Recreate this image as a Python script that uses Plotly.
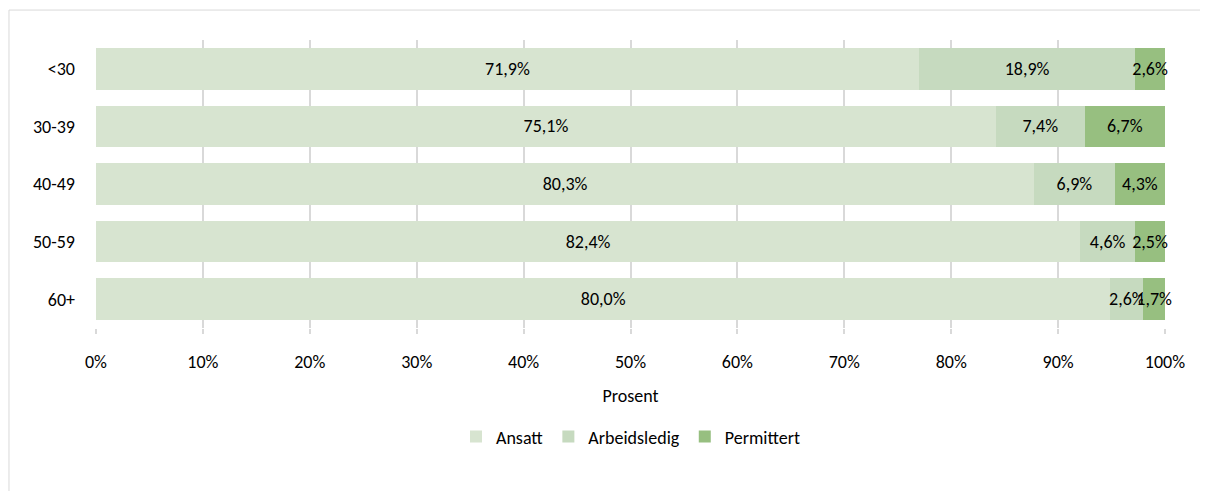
import plotly.graph_objects as go

categories = ["<30", "30-39", "40-49", "50-59", "60+"]
ansatt = [71.9, 75.1, 80.3, 82.4, 80.0]
arbeidsledig = [18.9, 7.4, 6.9, 4.6, 2.6]
permittert = [2.6, 6.7, 4.3, 2.5, 1.7]
tick_vals = [0, 10, 20, 30, 40, 50, 60, 70, 80, 90, 100]
tick_text = [f"{v}%" for v in tick_vals]

series = [
    ("Ansatt", ansatt, "#D7E4D0"),
    ("Arbeidsledig", arbeidsledig, "#C6DABF"),
    ("Permittert", permittert, "#97BF80"),
]

FONT = "Calibri, Carlito, Lato, sans-serif"
FS = 18

fig = go.Figure()
for name, vals, color in series:
    fig.add_trace(go.Bar(
        name=name, y=categories, x=vals, orientation="h",
        marker=dict(color=color, line=dict(width=0)),
        text=[f"{v:.1f}%".replace(".", ",") for v in vals],
        textposition="inside", insidetextanchor="middle", textangle=0,
        constraintext="none",
        textfont=dict(color="#000000", size=FS, family=FONT),
        cliponaxis=False,
    ))

fig.update_layout(
    barmode="stack", barnorm="percent", bargap=0.28,
    width=1200, height=483,
    margin=dict(l=88, r=43, t=32, b=163),
    plot_bgcolor="white", paper_bgcolor="white",
    font=dict(family=FONT, size=FS, color="#000000"),
    showlegend=True,
    legend=dict(orientation="h", x=0.5, xanchor="center", y=-0.378, yanchor="middle",
                font=dict(size=FS, family=FONT), traceorder="normal", itemwidth=30),
    xaxis=dict(range=[0, 100.0005], tickvals=tick_vals, ticktext=tick_text,
               showgrid=True, gridcolor="#D9D9D9", gridwidth=2, zeroline=False,
               ticks="outside", ticklen=5, tickcolor="#D9D9D9", tickwidth=2,
               ticklabelstandoff=12,
               title=dict(text="Prosent", standoff=17, font=dict(size=FS, family=FONT)),
               showline=False),
    yaxis=dict(autorange="reversed", showgrid=False, ticks="", ticklabelstandoff=20,
               showline=False, zeroline=False),
    shapes=[dict(type="rect", xref="paper", yref="paper",
                 x0=-0.0814, x1=1.06, y0=-0.62, y1=1.104,
                 line=dict(color="#D9D9D9", width=1), fillcolor="rgba(0,0,0,0)", layer="below")],
)

fig.write_html("out.html")
